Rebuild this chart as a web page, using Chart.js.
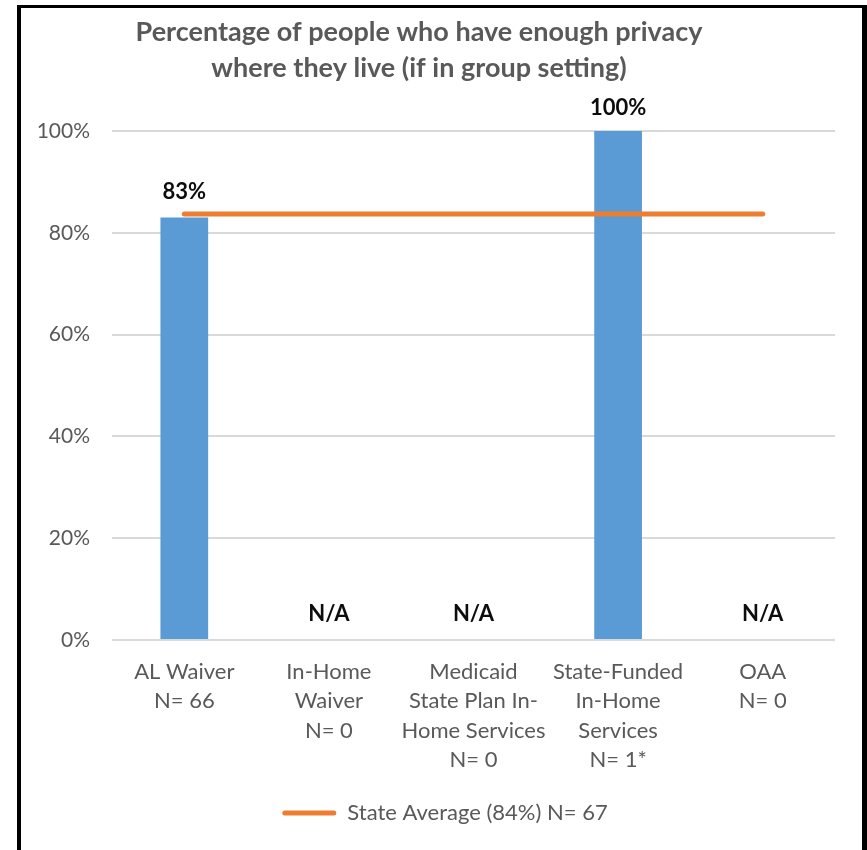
<!DOCTYPE html>
<html>
<head>
<meta charset="utf-8">
<script src="https://cdn.jsdelivr.net/npm/chart.js@4"></script>
<style>
    html, body { margin: 0; padding: 0; background: #fff; overflow: hidden; }
    #wrap { position: relative; width: 867px; height: 850px; }
    #chart { position: absolute; left: 0; top: 0; }
    #frame {
        position: absolute; left: 17px; top: 5px; width: 841px; height: 900px;
        border-left: 4px solid #000; border-top: 3px solid #000; border-right: 5px solid #000;
        pointer-events: none;
    }
</style>
</head>
<body>
<div id="wrap">
    <canvas id="chart" width="867" height="850"></canvas>
    <div id="frame"></div>
</div>
<script>
const titleLines = ['Percentage of people who have enough privacy', 'where they live (if in group setting)'];
const categories = [
    ['AL Waiver', 'N= 66'],
    ['In-Home', 'Waiver', 'N= 0'],
    ['Medicaid', 'State Plan In-', 'Home Services', 'N= 0'],
    ['State-Funded', 'In-Home', 'Services', 'N= 1*'],
    ['OAA', 'N= 0']
];
const programValues = [83, null, null, 100, null];
const stateAverage = [83.7, 83.7, 83.7, 83.7, 83.7];
const averageLabel = 'State Average (84%) N= 67';
const yTicks = [0, 20, 40, 60, 80, 100];

const gray = '#595959';
const fontFamily = 'Lato, "Open Sans", sans-serif';

// title is drawn by hand so it can sit a bit left of the legend, like the original
const titlePlugin = {
    id: 'customTitle',
    afterDraw: function(chart) {
        const ctx = chart.ctx;
        ctx.save();
        ctx.font = 'bold 27px ' + fontFamily;
        ctx.fillStyle = gray;
        ctx.textAlign = 'center';
        ctx.textBaseline = 'middle';
        ctx.fillText(titleLines[0], 419, 32);
        ctx.fillText(titleLines[1], 419, 68);
        ctx.restore();
    }
};

const valueLabels = {
    id: 'valueLabels',
    afterDatasetsDraw: function(chart) {
        const ctx = chart.ctx;
        const xs = chart.scales.x;
        const ys = chart.scales.y;
        ctx.save();
        ctx.font = 'bold 22px ' + fontFamily;
        ctx.fillStyle = '#0d0d0d';
        ctx.textAlign = 'center';
        ctx.textBaseline = 'middle';
        programValues.forEach(function(v, i) {
            const x = xs.getPixelForValue(i);
            const y = ys.getPixelForValue(v === null ? 0 : v) - (v === 100 ? 23 : 26);
            ctx.fillText(v === null ? 'N/A' : v + '%', x, y);
        });
        ctx.restore();
    }
};

new Chart(document.getElementById('chart'), {
    data: {
        labels: categories,
        datasets: [
            {
                type: 'line',
                label: averageLabel,
                data: stateAverage,
                borderColor: '#ED7D31',
                backgroundColor: '#ED7D31',
                borderWidth: 5,
                borderCapStyle: 'round',
                pointRadius: 0,
                order: 0
            },
            {
                type: 'bar',
                label: 'Programs',
                data: programValues,
                backgroundColor: '#5B9BD5',
                categoryPercentage: 1,
                barPercentage: 0.33,
                order: 1
            }
        ]
    },
    options: {
        responsive: false,
        animation: false,
        layout: { padding: { top: 131, left: 36, right: 13, bottom: 16 } },
        plugins: {
            title: { display: false },
            tooltip: { enabled: false },
            legend: {
                position: 'bottom',
                labels: {
                    color: gray,
                    font: { family: fontFamily, size: 22 },
                    boxWidth: 54,
                    boxHeight: 5,
                    useBorderRadius: true,
                    borderRadius: 2.5,
                    filter: function(item) { return item.datasetIndex === 0; },
                    generateLabels: function(chart) {
                        const items = Chart.defaults.plugins.legend.labels.generateLabels(chart);
                        return items.map(function(item) {
                            item.lineWidth = 0;
                            return item;
                        });
                    }
                }
            }
        },
        scales: {
            x: {
                grid: { display: false, drawTicks: false },
                border: { display: false },
                ticks: {
                    color: gray,
                    font: { family: fontFamily, size: 22, lineHeight: 1.34 },
                    padding: 17,
                    maxRotation: 0,
                    autoSkip: false
                },
                afterFit: function(scale) { scale.height = 152; }
            },
            y: {
                min: 0,
                max: 100,
                afterBuildTicks: function(scale) {
                    scale.ticks = yTicks.map(function(v) { return { value: v }; });
                },
                grid: { color: '#d9d9d9', lineWidth: 2, drawTicks: false },
                border: { display: false },
                ticks: {
                    color: gray,
                    font: { family: fontFamily, size: 21 },
                    padding: 22,
                    callback: function(value) { return value + '%'; }
                },
                afterFit: function(scale) { scale.width = 76; }
            },
            // empty right-hand strip so the legend centres where the original one does
            spacer: {
                type: 'linear',
                position: 'right',
                grid: { display: false, drawTicks: false },
                border: { display: false },
                ticks: { display: false },
                afterFit: function(scale) { scale.width = 19; }
            }
        }
    },
    plugins: [titlePlugin, valueLabels]
});
</script>
</body>
</html>
